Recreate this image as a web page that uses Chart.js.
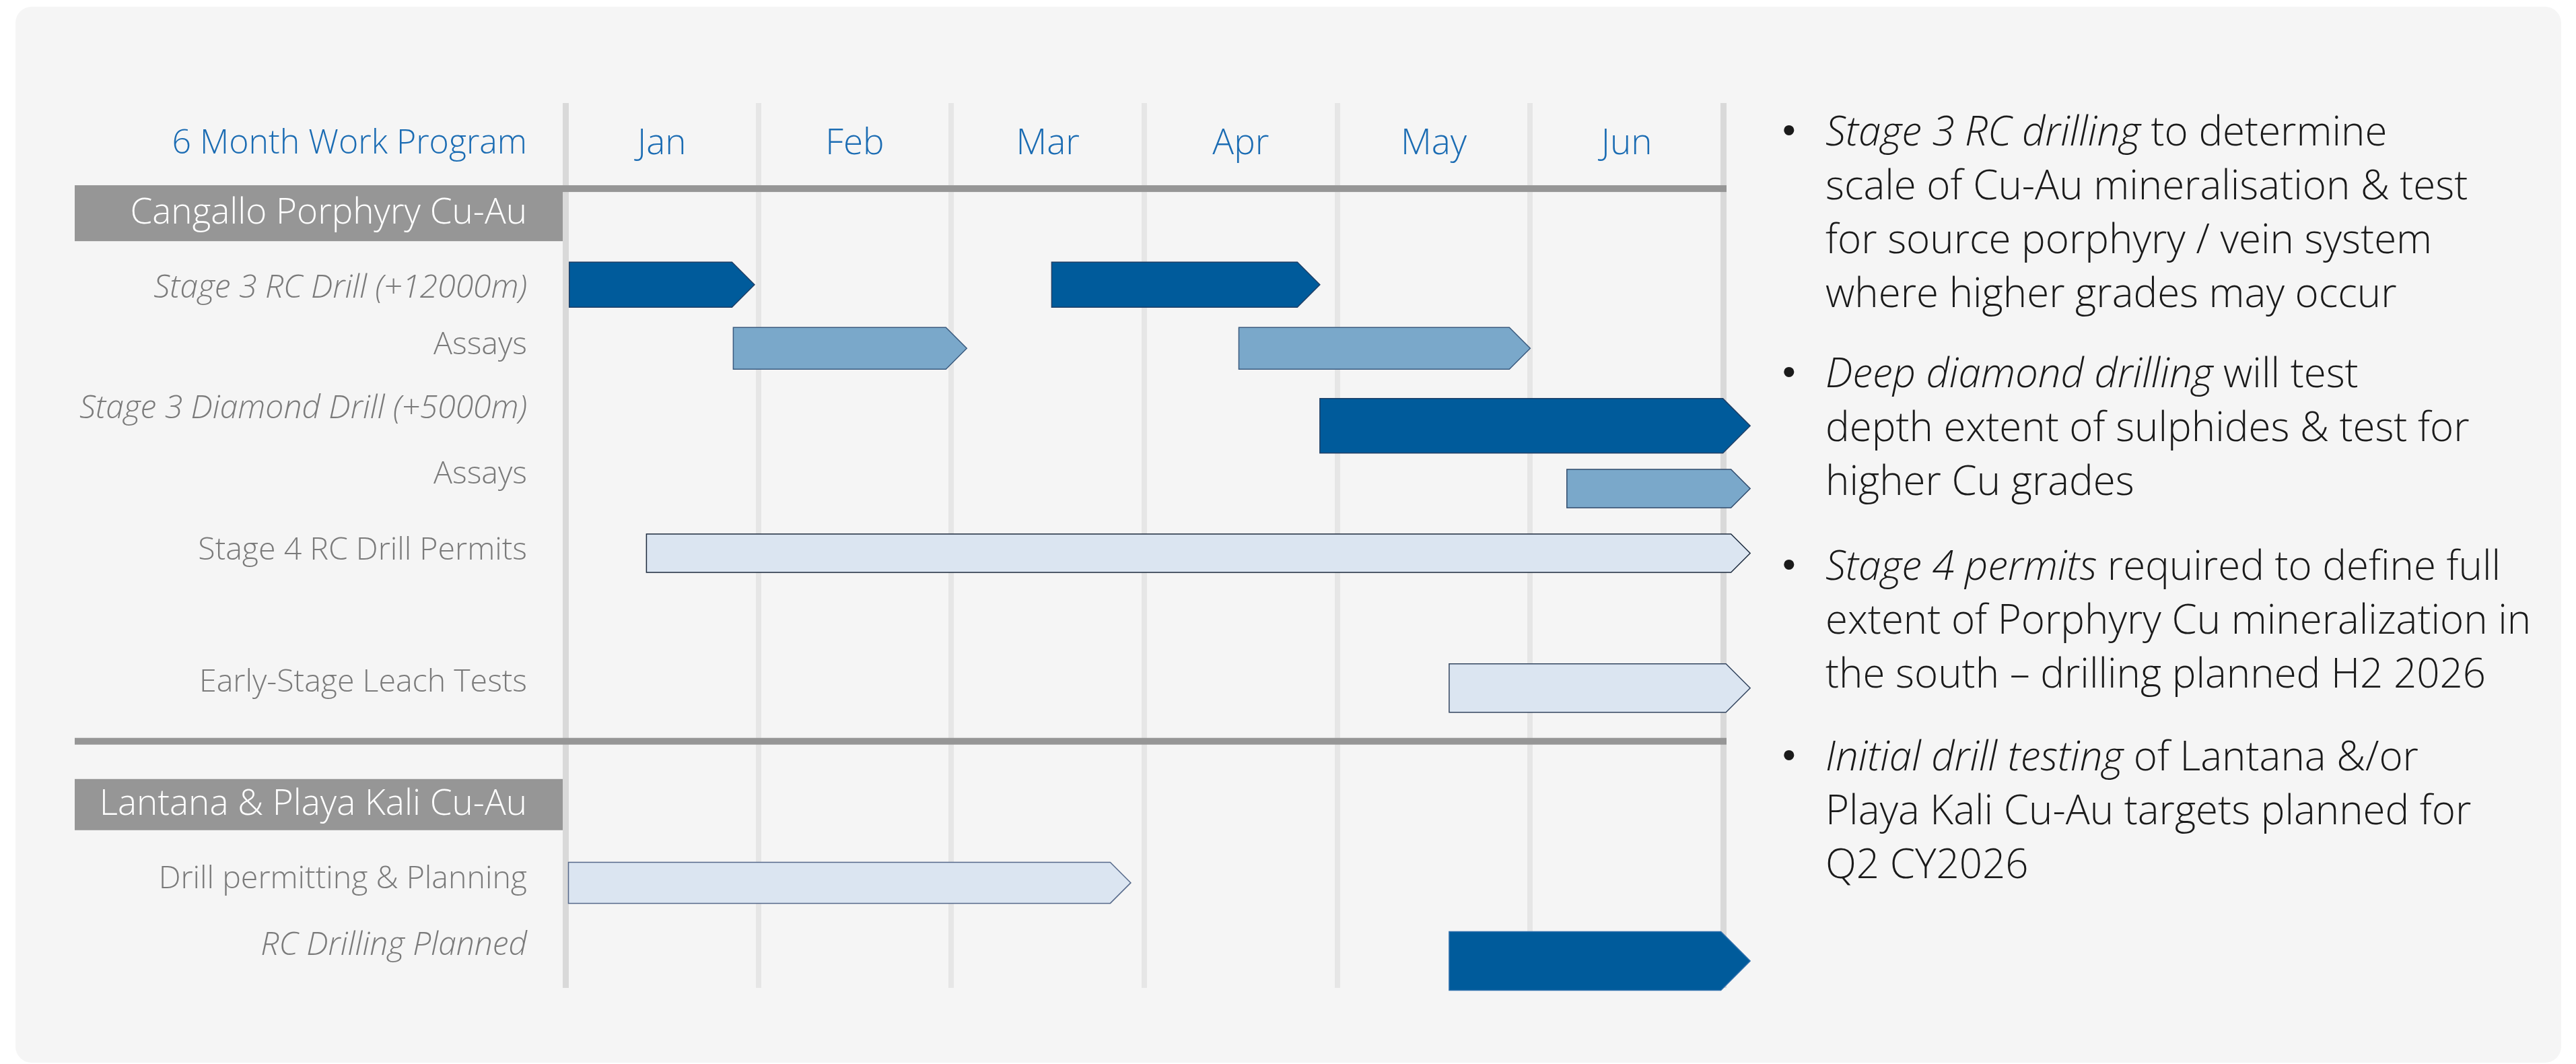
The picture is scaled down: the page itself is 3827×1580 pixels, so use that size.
<!DOCTYPE html>
<html>
<head>
<meta charset="utf-8">
<script src="https://cdn.jsdelivr.net/npm/chart.js@4.4.0/dist/chart.umd.min.js"></script>
<style>
    html, body { margin: 0; padding: 0; background: #ffffff; }
    #stage { position: relative; width: 3827px; height: 1580px; overflow: hidden; }
    #panel { position: absolute; left: 23px; top: 10px; width: 3782px; height: 1568px; background: #f5f5f5; border-radius: 24px; }
    #gantt { position: absolute; left: 0; top: 0; }
    .note {
        position: absolute; left: 2648px; padding-left: 64px; white-space: nowrap;
        font-family: 'Open Sans', sans-serif; font-weight: 300; font-size: 60px; line-height: 80px; color: #1a1a1a;
    }
    .note::before { content: '\2022'; position: absolute; left: 0; top: 0; font-family: 'Liberation Sans', Arial, sans-serif; font-weight: 400; font-size: 56px; }
</style>
</head>
<body>
<div id="stage">
    <div id="panel"></div>
    <canvas id="gantt" width="3827" height="1580"></canvas>
    <div class="note" style="top:153px"><i>Stage 3 RC drilling</i> to determine<br>scale of Cu-Au mineralisation &amp; test<br>for source porphyry / vein system<br>where higher grades may occur</div>
    <div class="note" style="top:512px"><i>Deep diamond drilling</i> will test<br>depth extent of sulphides &amp; test for<br>higher Cu grades</div>
    <div class="note" style="top:798px"><i>Stage 4 permits</i> required to define full<br>extent of Porphyry Cu mineralization in<br>the south – drilling planned H2 2026</div>
    <div class="note" style="top:1081px"><i>Initial drill testing</i> of Lantana &amp;/or<br>Playa Kali Cu-Au targets planned for<br>Q2 CY2026</div>
</div>
<script>
// Datos del programa (meses contados desde el 1 de enero)
const months = ['Jan', 'Feb', 'Mar', 'Apr', 'May', 'Jun'];
const programTitle = '6 Month Work Program';
const groups = ['Cangallo Porphyry Cu-Au', 'Lantana & Playa Kali Cu-Au'];
const tasks = [
    'Stage 3 RC Drill (+12000m)',
    'Assays',
    'Stage 3 Diamond Drill (+5000m)',
    'Assays',
    'Stage 4 RC Drill Permits',
    'Early-Stage Leach Tests',
    'Drill permitting & Planning',
    'RC Drilling Planned'
];

// [inicio, punta de la flecha] en meses
const stage3Rc = [[0.02, 0.98], [2.52, 3.91]];
const stage3RcAssays = [[0.87, 2.08], [3.49, 5.0]];
const diamondDrill = [[3.91, 6.14]];
const diamondAssays = [[5.19, 6.14]];
const stage4Permits = [[0.42, 6.14]];
const leachTests = [[4.58, 6.14]];
const lantanaPermits = [[0.0, 2.93]];
const lantanaDrilling = [[4.58, 6.14]];
const taskSpans = [stage3Rc, stage3RcAssays, diamondDrill, diamondAssays, stage4Permits, leachTests, lantanaPermits, lantanaDrilling];

// Layout vertical (1 unidad = 100px) y estilos
const titleRow = 0.61;
const groupRows = [1.64, 10.41];
const groupBoxHeights = [82, 76];
const dividerRows = [1.27, 9.47];
const taskRows = [2.75, 3.59, 4.54, 5.51, 6.64, 8.60, 11.52, 12.50];
const barRows = [2.695, 3.64, 4.79, 5.72, 6.68, 8.68, 11.57, 12.73];
const barHeights = [67, 62, 81, 57, 57, 72, 61, 87];
const taskItalic = [true, false, true, false, false, false, false, true];

const DARK = '#005b9b', MID = '#7aa8ca', LIGHT = '#dbe5f1';
const taskFill = [DARK, MID, DARK, MID, LIGHT, LIGHT, LIGHT, DARK];
const taskBorder = ['#1f3f66', '#3a5a7e', '#1f3f66', '#2f4a6b', '#1c2a3d', '#33455f', '#56698a', '#2e6fad'];

const FONT = "'Open Sans', sans-serif";
const BLUE = '#1b6cb3';
const GREY_TEXT = '#7a7a7a';
const BAR_GREY = '#969696';

// Etiquetas del eje Y (título, grupos y tareas)
const rowLabels = [];
rowLabels.push({ pos: titleRow, text: programTitle, color: BLUE, font: { family: FONT, size: 50, weight: '300' } });
groups.forEach((g, i) => rowLabels.push({ pos: groupRows[i], text: g, color: '#ffffff', font: { family: FONT, size: 53, weight: '300' } }));
tasks.forEach((t, i) => rowLabels.push({
    pos: taskRows[i], text: t, color: GREY_TEXT,
    font: { family: FONT, size: taskItalic[i] ? 48 : 46.5, weight: '300', style: taskItalic[i] ? 'italic' : 'normal' }
}));
rowLabels.sort((a, b) => a.pos - b.pos);

function labelAt(i) {
    return rowLabels[i] || rowLabels[rowLabels.length - 1];
}

// Cajas grises de los grupos (debajo del texto)
const groupBoxes = {
    id: 'groupBoxes',
    beforeDraw(chart) {
        const { ctx, chartArea } = chart;
        const y = chart.scales.y;
        ctx.save();
        ctx.fillStyle = BAR_GREY;
        groupRows.forEach((r, i) => {
            const cy = y.getPixelForValue(r);
            ctx.fillRect(111, cy - groupBoxHeights[i] / 2, chartArea.left - 3 - 111, groupBoxHeights[i]);
        });
        ctx.restore();
    },
    beforeDatasetsDraw(chart) {
        const { ctx } = chart;
        const x = chart.scales.x, y = chart.scales.y;
        ctx.save();
        // líneas divisorias
        ctx.fillStyle = BAR_GREY;
        dividerRows.forEach(r => {
            const cy = y.getPixelForValue(r);
            ctx.fillRect(111, cy - 5, x.getPixelForValue(6) + 5 - 111, 10);
        });
        // meses centrados en cada columna
        ctx.fillStyle = BLUE;
        ctx.font = `300 53px ${FONT}`;
        ctx.textAlign = 'center';
        ctx.textBaseline = 'middle';
        months.forEach((m, i) => {
            ctx.fillText(m, x.getPixelForValue(i + 0.5), y.getPixelForValue(titleRow));
        });
        ctx.restore();
    }
};

// Barras con forma de flecha (pentágono)
const arrowBars = {
    id: 'arrowBars',
    beforeDatasetDraw(chart, args) {
        const { ctx } = chart;
        ctx.save();
        args.meta.data.forEach(el => {
            const { x, base, y, height } = el.getProps(['x', 'base', 'y', 'height'], true);
            const o = el.options;
            const left = Math.min(x, base), right = Math.max(x, base);
            const h = height / 2, tip = height / 2;
            ctx.beginPath();
            ctx.moveTo(left, y - h);
            ctx.lineTo(right - tip, y - h);
            ctx.lineTo(right, y);
            ctx.lineTo(right - tip, y + h);
            ctx.lineTo(left, y + h);
            ctx.closePath();
            ctx.fillStyle = o.backgroundColor;
            ctx.fill();
            ctx.lineWidth = o.borderWidth;
            ctx.strokeStyle = o.borderColor;
            ctx.stroke();
        });
        ctx.restore();
        return false;
    }
};

const ctx = document.getElementById('gantt').getContext('2d');
new Chart(ctx, {
    type: 'bar',
    data: {
        datasets: taskSpans.map((spans, i) => ({
            label: tasks[i],
            data: spans.map(s => ({ x: s, y: barRows[i] })),
            barThickness: barHeights[i],
            backgroundColor: taskFill[i],
            borderColor: taskBorder[i],
            borderWidth: 1.5,
            grouped: false
        }))
    },
    options: {
        indexAxis: 'y',
        responsive: false,
        animation: false,
        layout: { padding: { left: 0, right: 1267, top: 153, bottom: 113 } },
        plugins: { legend: { display: false }, tooltip: { enabled: false } },
        scales: {
            x: {
                type: 'linear', position: 'top', min: 0, max: 6,
                ticks: { display: false, stepSize: 1 },
                grid: {
                    drawTicks: false,
                    color: c => (c.tick && (c.tick.value === 0 || c.tick.value === 6)) ? '#d9d9d9' : '#e6e6e6',
                    lineWidth: c => (c.tick && (c.tick.value === 0 || c.tick.value === 6)) ? 9 : 8
                },
                border: { display: false },
                afterFit: s => { s.height = 0; }
            },
            y: {
                type: 'linear', reverse: true, min: 0, max: 13.13, offset: false,
                afterBuildTicks: s => { s.ticks = rowLabels.map(r => ({ value: r.pos })); },
                afterFit: s => { s.width = 840; },
                grid: { display: false, drawTicks: false },
                border: { display: false },
                ticks: {
                    autoSkip: false,
                    padding: 57,
                    callback: (v, i) => labelAt(i).text,
                    color: c => labelAt(c.index).color,
                    font: c => labelAt(c.index).font
                }
            }
        }
    },
    plugins: [groupBoxes, arrowBars]
});
</script>
</body>
</html>
